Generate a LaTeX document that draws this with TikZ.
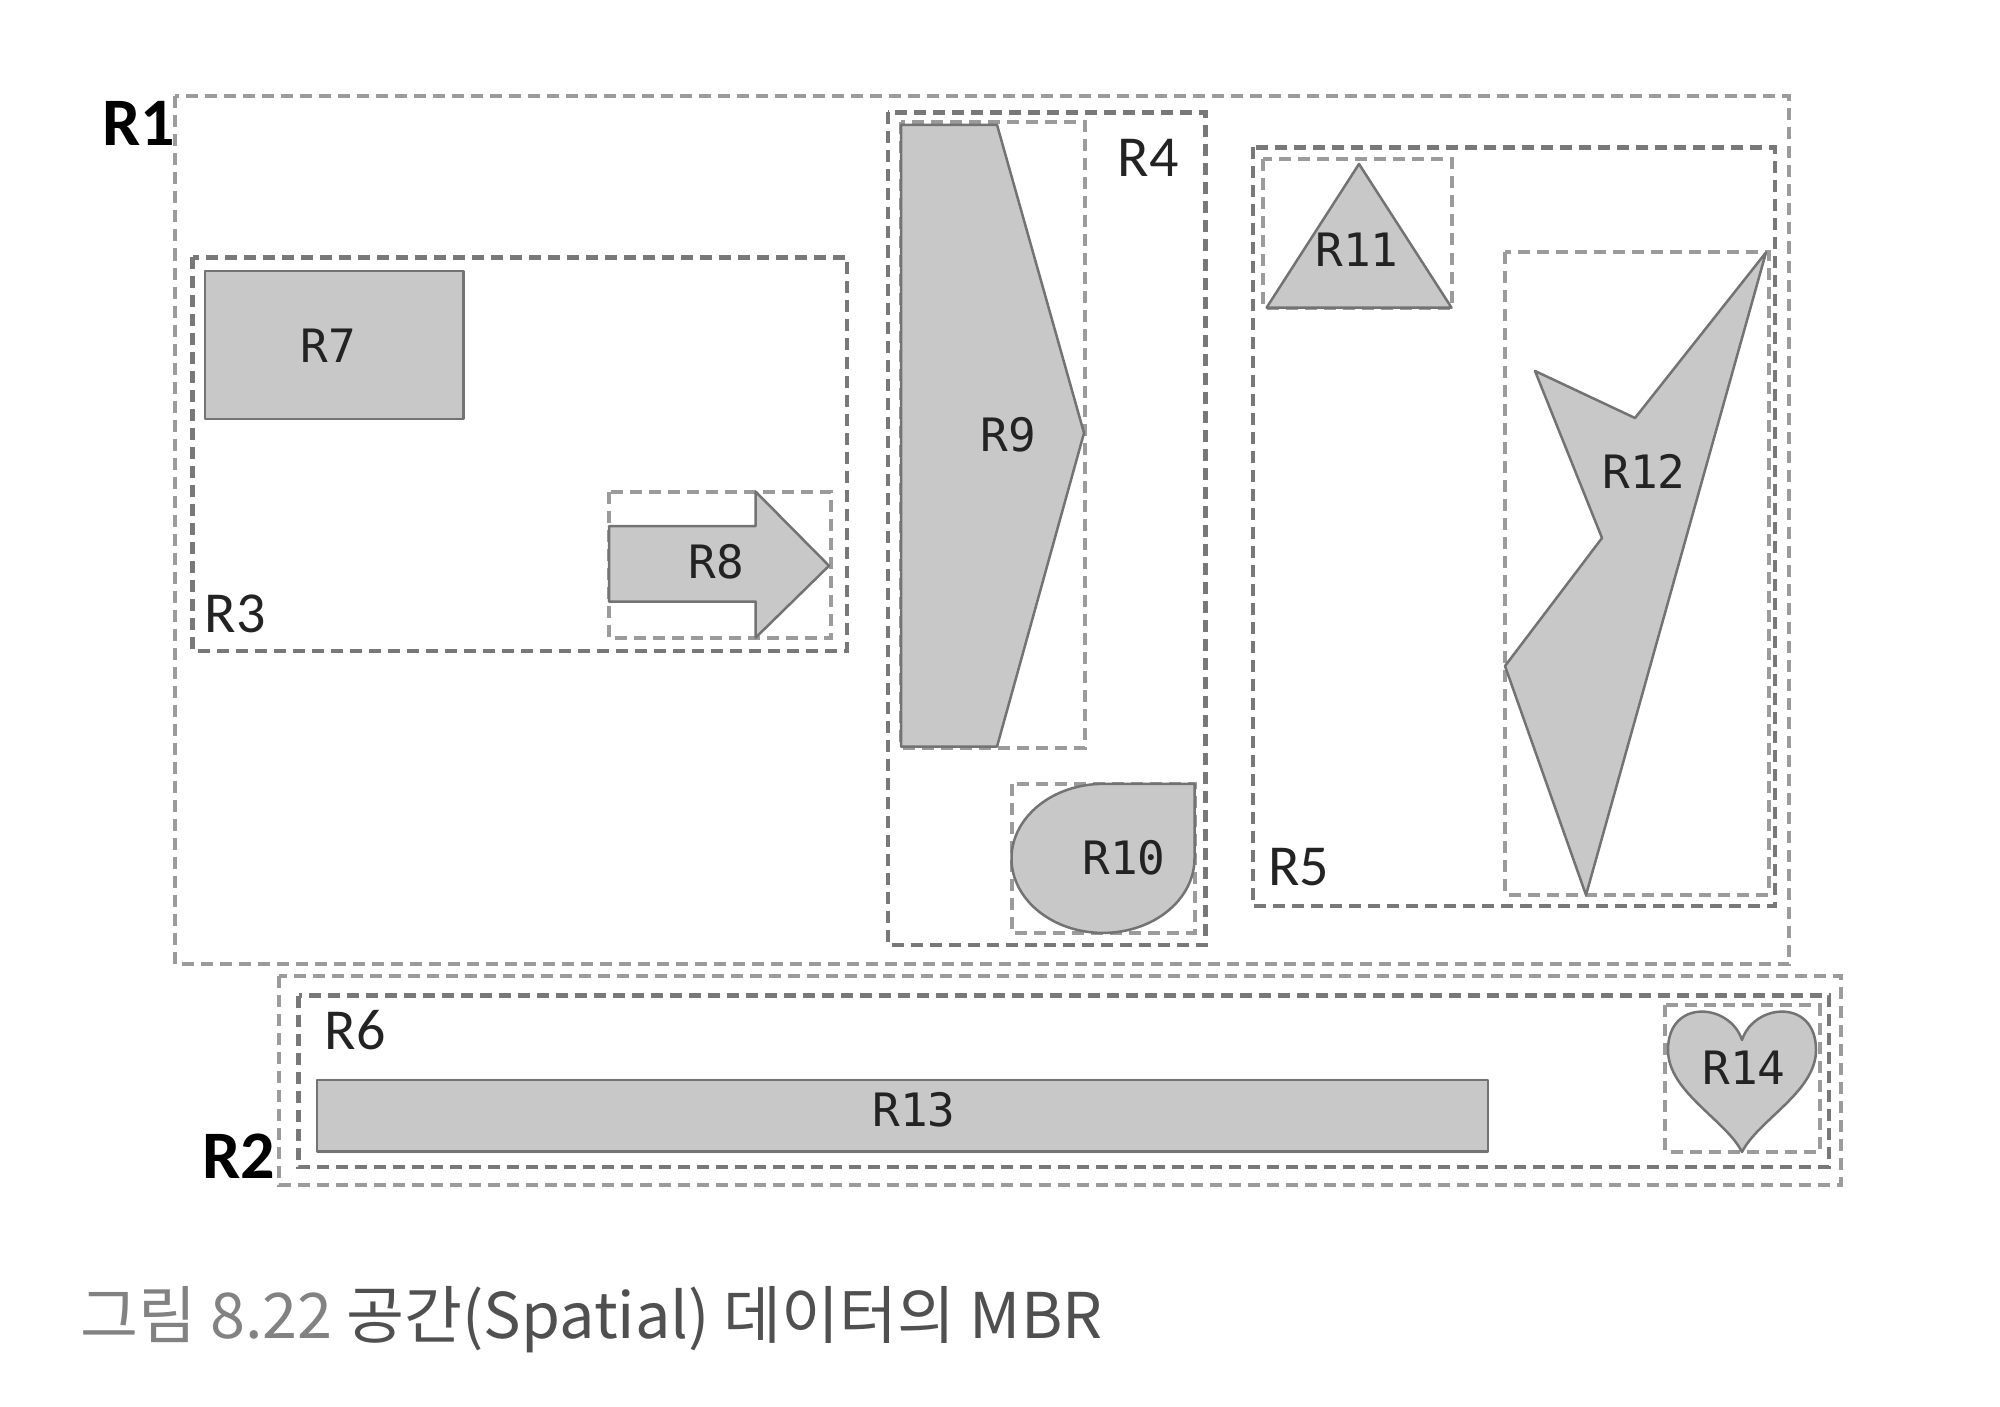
\documentclass[tikz,border=0pt]{standalone}
\usepackage{fontspec}
\setmainfont{Carlito}
\newfontfamily\lblmono{DejaVu Sans Mono}
\newfontfamily\lblsans{Carlito}
\newfontfamily\capfont{Noto Sans CJK KR}
\definecolor{mbrc}{RGB}{120,120,120}
\definecolor{mbrl}{RGB}{155,155,155}
\definecolor{objfill}{RGB}{200,200,200}
\definecolor{objline}{RGB}{115,115,115}
\definecolor{labc}{RGB}{35,35,35}
\definecolor{capl}{RGB}{130,130,130}
\definecolor{capd}{RGB}{80,80,80}
\begin{document}
\begin{tikzpicture}[x=1pt,y=-1pt,
  mbr/.style={draw=mbrc, line width=4.5pt, dash pattern=on 12pt off 7pt},
  mbrlight/.style={mbr, draw=mbrl, line width=4pt},
  obj/.style={fill=objfill, draw=objline, line width=2.5pt, line join=round},
  mlab/.style={font=\lblmono\fontsize{46}{46}\selectfont, text=labc, inner sep=0pt},
  slab/.style={font=\lblsans\fontsize{58}{58}\selectfont, text=labc, inner sep=0pt},
  blab/.style={font=\lblsans\bfseries\fontsize{68}{68}\selectfont, text=black, inner sep=0pt}]
\useasboundingbox[fill=white] (0,0) rectangle (2000,1407);

% ---- MBRs ----
\draw[mbrlight] (175,96.5) rectangle (1789,964);      % R1
\draw[mbrlight] (279,976) rectangle (1841,1185);      % R2
\draw[mbr] (192.6,257.3) rectangle (847,651);         % R3
\draw[mbr] (888,112.5) rectangle (1205.4,944.8);      % R4
\draw[mbr] (1253,147.3) rectangle (1775,906);         % R5
\draw[mbr] (298.5,995.5) rectangle (1829,1167);       % R6
\draw[mbrlight] (609,491.7) rectangle (831,637.6);    % R8
\draw[mbrlight] (901,122) rectangle (1085,747.5);     % R9
\draw[mbrlight] (1011.5,784) rectangle (1194.5,932.7);% R10
\draw[mbrlight] (1262.8,159.4) rectangle (1451.5,307.6); % R11
\draw[mbrlight] (1505,252.4) rectangle (1768.5,894.6);% R12
\draw[mbrlight] (1665,1005) rectangle (1819.5,1151.5);% R14

% ---- objects ----
\draw[obj] (205,270.8) rectangle (463.6,419);         % R7
\draw[obj] (609,526) -- (755.7,526) -- (755.7,491.7) -- (829,565.8)
  -- (755.7,637.6) -- (755.7,601.7) -- (609,601.7) -- cycle; % R8
\draw[obj] (901,124.8) -- (997,124.8) -- (1084,433) -- (997,746.6)
  -- (901,746.6) -- cycle;                            % R9
\draw[obj] (1194.5,858.4) .. controls (1194.5,899.5) and (1153.5,932.9) .. (1103,932.9)
  .. controls (1052.5,932.9) and (1011.5,899.5) .. (1011.5,858.4)
  .. controls (1011.5,817.3) and (1052.5,783.9) .. (1103,783.9)
  -- (1194.5,783.9) -- cycle;                         % R10
\draw[obj] (1359,164) -- (1266.6,307.6) -- (1451.5,307.6) -- cycle; % R11
\draw[obj] (1766,252.4) -- (1635,418) -- (1535,371) -- (1602,538)
  -- (1505,666) -- (1586,895) -- cycle;               % R12
\draw[obj] (317,1079.8) rectangle (1488,1151.5);      % R13
\draw[obj] (1742,1040) .. controls (1754,1003) and (1816,998) .. (1816,1050)
  .. controls (1816,1092) and (1758,1120) .. (1742,1152)
  .. controls (1726,1120) and (1668,1092) .. (1668,1050)
  .. controls (1668,998) and (1730,1003) .. (1742,1040) -- cycle; % R14

% ---- labels ----
\node[blab] (l1) at (139,123) {R1};
\node[blab] (l2) at (239,1156) {R2};
\node[slab] (l3) at (235,614) {R3};
\node[slab] (l4) at (1148,158) {R4};
\node[slab] (l5) at (1298.5,867.5) {R5};
\node[slab] (l6) at (355,1030) {R6};
\node[mlab] (l7) at (328,346) {R7};
\node[mlab] (l8) at (716,561.5) {R8};
\node[mlab] (l9) at (1008,435) {R9};
\node[mlab] (l10) at (1124,857.5) {R10};
\node[mlab] (l11) at (1357,250) {R11};
\node[mlab] (l12) at (1644,471.5) {R12};
\node[mlab] (l13) at (914,1109.5) {R13};
\node[mlab] (l14) at (1744,1068) {R14};

\node[anchor=base west, inner sep=0pt, font=\capfont\fontsize{63}{63}\selectfont]
  (cap) at (80,1338) {\textcolor{capl}{그림 8.22} \textcolor{capd}{공간(Spatial) 데이터의 MBR}};
\end{tikzpicture}
\end{document}
